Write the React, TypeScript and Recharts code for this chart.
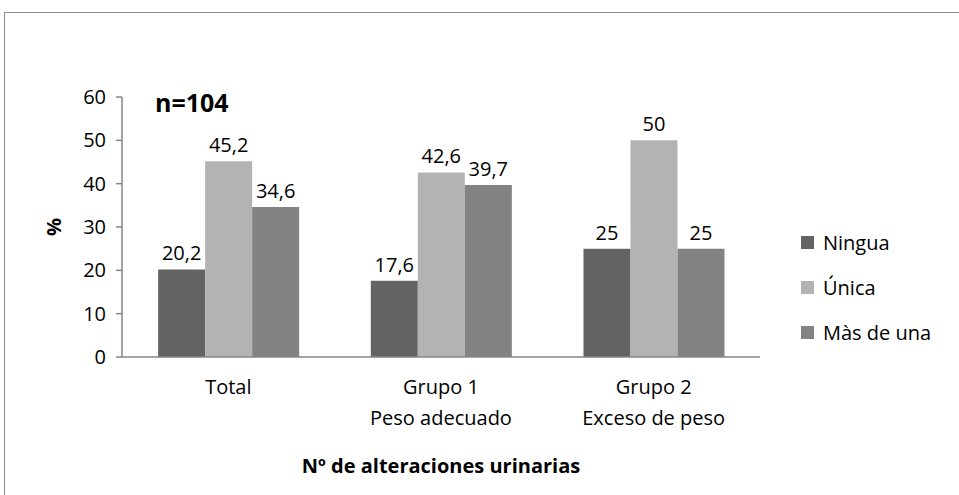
import React from 'react';
import { BarChart, Bar, XAxis, YAxis, Legend, LabelList, Label } from 'recharts';

const categories = ['Total', 'Grupo 1|Peso adecuado', 'Grupo 2|Exceso de peso'];
const ningua = [20.2, 17.6, 25];
const unica = [45.2, 42.6, 50];
const masDeUna = [34.6, 39.7, 25];
const yTicks = [0, 10, 20, 30, 40, 50, 60];

const SERIES = [
  { key: 'ningua', name: 'Ningua', color: '#636363' },
  { key: 'unica', name: 'Única', color: '#b3b3b3' },
  { key: 'mas', name: 'Màs de una', color: '#838383' },
];

const data = categories.map((c, i) => ({
  cat: c,
  ningua: ningua[i],
  unica: unica[i],
  mas: masDeUna[i],
}));

const FONT = '"Open Sans", sans-serif';
const AXIS = '#868686';

const CatTick = (props: any) => {
  const { x, y, payload } = props;
  const lines = String(payload.value).split('|');
  return (
    <text x={x} y={y} textAnchor="middle" fontFamily={FONT} fontSize={20} fill="#000">
      {lines.map((l, i) => (
        <tspan key={i} x={x} dy={i === 0 ? 29 : 31}>{l}</tspan>
      ))}
    </text>
  );
};

const fmt = (v: any) => String(v).replace('.', ',');

const LegendBox = (props: any) => {
  const items = [...(props.payload || [])].sort(
    (a: any, b: any) => SERIES.findIndex((s) => s.key === a.dataKey) - SERIES.findIndex((s) => s.key === b.dataKey)
  );
  return (
    <div style={{ fontFamily: FONT, fontSize: 20, color: '#000' }}>
      {items.map((p: any, i: number) => (
        <div key={i} style={{ display: 'flex', alignItems: 'center', height: 45 }}>
          <span style={{ width: 13, height: 13, background: p.color, display: 'inline-block', marginRight: 9 }} />
          <span>{p.value}</span>
        </div>
      ))}
    </div>
  );
};

export default function App() {
  return (
    <div style={{ position: 'absolute', left: 0, top: 0, width: 959, height: 495, overflow: 'hidden', background: '#fff' }}>
      <div style={{ position: 'absolute', left: 4, top: 12, width: 1000, height: 600, border: '1.5px solid #8c8c8c', boxSizing: 'border-box' }} />
      <div style={{ position: 'absolute', left: 0, top: 0 }}>
        <BarChart width={959} height={495} data={data} margin={{ top: 97, right: 39, bottom: 0, left: 0 }}
          barCategoryGap="17%" barGap={0}>
          <XAxis dataKey="cat" height={138} tick={<CatTick />} tickLine={false} axisLine={{ stroke: AXIS, strokeWidth: 1.5 }} interval={0}>
            <Label value="Nº de alteraciones urinarias" position="insideBottom" offset={22}
              style={{ fontFamily: FONT, fontSize: 20, fontWeight: 700, fill: '#000' }} />
          </XAxis>
          <YAxis width={122} domain={[0, 60]} ticks={yTicks} interval={0} tickSize={6} tickMargin={10}
            axisLine={{ stroke: AXIS, strokeWidth: 1.5 }} tickLine={{ stroke: AXIS, strokeWidth: 1.5 }}
            tick={{ fontFamily: FONT, fontSize: 20, fill: '#000' }}
            label={{
              content: () => (
                <text x={56} y={227} transform="rotate(-90 56 227)" textAnchor="middle" dominantBaseline="middle"
                  fontFamily={FONT} fontSize={20} fontWeight={700} fill="#000">%</text>
              ),
            }}
          />
          <Legend layout="vertical" verticalAlign="middle" align="right" content={<LegendBox />}
            wrapperStyle={{ left: 801, top: 220, width: 160, height: 135 }} />
          {SERIES.map((s) => (
            <Bar key={s.key} dataKey={s.key} name={s.name} fill={s.color} isAnimationActive={false}>
              <LabelList dataKey={s.key} position="top" offset={9} formatter={fmt}
                style={{ fontFamily: FONT, fontSize: 20, fill: '#000' }} />
            </Bar>
          ))}
        </BarChart>
      </div>
      <div style={{ position: 'absolute', left: 155, top: 86, fontFamily: FONT, fontSize: 25, fontWeight: 700, color: '#000', lineHeight: '32px' }}>
        n=104
      </div>
    </div>
  );
}
